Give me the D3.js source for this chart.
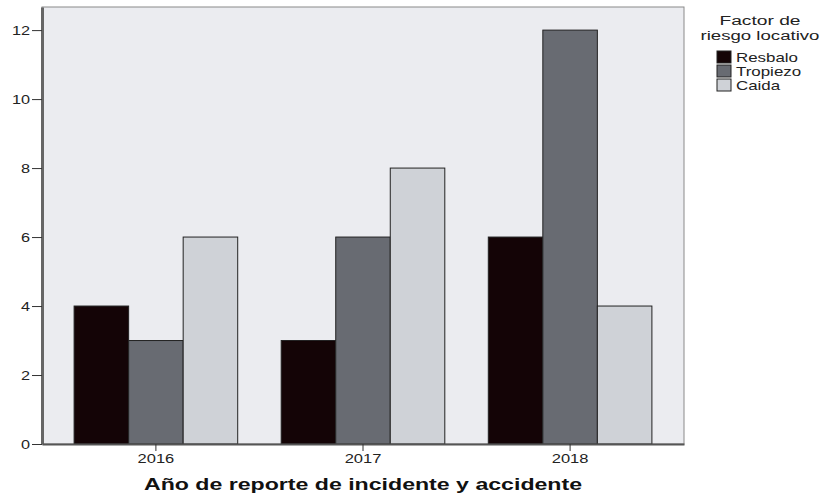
<!DOCTYPE html>
<html>
<head>
<meta charset="utf-8">
<script src="https://cdn.jsdelivr.net/npm/d3@7"></script>
<style>
  body { margin: 0; background: #fff; }
  text { font-family: "Liberation Sans", Arial, sans-serif; }
</style>
</head>
<body>
<div id="chart"></div>
<script>
// data
const years = ["2016", "2017", "2018"];
const factors = ["Resbalo", "Tropiezo", "Caida"];
const resbalo = [4, 3, 6];
const tropiezo = [3, 6, 12];
const caida = [6, 8, 4];
const yTicks = [0, 2, 4, 6, 8, 10, 12];

const colors = ["#140406", "#686b72", "#cfd2d7"];
const series = [resbalo, tropiezo, caida];

const W = 823, H = 495;
const margin = {top: 7, right: 139, bottom: 51, left: 42};
const pw = W - margin.left - margin.right;
const ph = H - margin.top - margin.bottom;

// the original text looks stretched sideways, widen it a bit
function stretch(sel, k) {
  sel.each(function() {
    const w = this.getComputedTextLength();
    d3.select(this).attr("textLength", w * k).attr("lengthAdjust", "spacingAndGlyphs");
  });
}

const svg = d3.select("#chart").append("svg")
  .attr("width", W).attr("height", H);

const g = svg.append("g").attr("transform", `translate(${margin.left},${margin.top})`);

const x = d3.scaleBand().domain(years).range([0, pw]).paddingInner(0.21).paddingOuter(0.155);
const xs = d3.scaleBand().domain(factors).range([0, x.bandwidth()]);
const y = d3.scaleLinear().domain([0, 12.67]).range([ph, 0]);

// plot background
g.append("rect")
  .attr("width", pw).attr("height", ph)
  .attr("fill", "#ebecf0")
  .attr("stroke", "#8a8a8a").attr("stroke-width", 1);

// bars
years.forEach((yr, i) => {
  const grp = g.append("g").attr("transform", `translate(${x(yr)},0)`);
  factors.forEach((f, j) => {
    grp.append("rect")
      .attr("x", xs(f))
      .attr("y", y(series[j][i]))
      .attr("width", xs.bandwidth())
      .attr("height", y(0) - y(series[j][i]))
      .attr("fill", colors[j])
      .attr("stroke", "#222")
      .attr("stroke-width", 1);
  });
});

// y axis
const yAxis = g.append("g")
  .call(d3.axisLeft(y).tickValues(yTicks).tickSize(10).tickSizeOuter(0).tickFormat(d3.format("d")));
yAxis.select(".domain").attr("stroke", "#666").attr("stroke-width", 3);
yAxis.selectAll(".tick line").attr("stroke", "#333");
yAxis.selectAll(".tick text").attr("font-size", 13).attr("fill", "#222").attr("x", -12)
  .call(stretch, 1.25);

// x axis
const xAxis = g.append("g").attr("transform", `translate(0,${ph})`)
  .call(d3.axisBottom(x).tickSize(7).tickSizeOuter(0));
xAxis.select(".domain").attr("stroke", "#555").attr("stroke-width", 2);
xAxis.selectAll(".tick line").attr("stroke", "#333");
xAxis.selectAll(".tick text").attr("font-size", 13).attr("fill", "#222").attr("y", 9).attr("dy", "0.8em")
  .call(stretch, 1.27);

// axis title
svg.append("text")
  .attr("x", margin.left + pw / 2).attr("y", 490)
  .attr("text-anchor", "middle")
  .attr("font-size", 17).attr("font-weight", "bold").attr("fill", "#111")
  .text("Año de reporte de incidente y accidente")
  .call(stretch, 1.36);

// legend
const lg = svg.append("g").attr("transform", "translate(694,0)");
lg.append("text").attr("x", 66).attr("y", 25).attr("text-anchor", "middle")
  .attr("font-size", 12).attr("fill", "#222").text("Factor de")
  .call(stretch, 1.6);
lg.append("text").attr("x", 66).attr("y", 40).attr("text-anchor", "middle")
  .attr("font-size", 12).attr("fill", "#222").text("riesgo locativo")
  .call(stretch, 1.55);
factors.forEach((f, j) => {
  const row = lg.append("g").attr("transform", `translate(${23},${51 + j * 14})`);
  row.append("rect").attr("width", 14).attr("height", 12)
    .attr("fill", colors[j]).attr("stroke", "#222");
  row.append("text").attr("x", 19).attr("y", 11)
    .attr("font-size", 13).attr("fill", "#222").text(f)
    .call(stretch, 1.3);
});
</script>
</body>
</html>
